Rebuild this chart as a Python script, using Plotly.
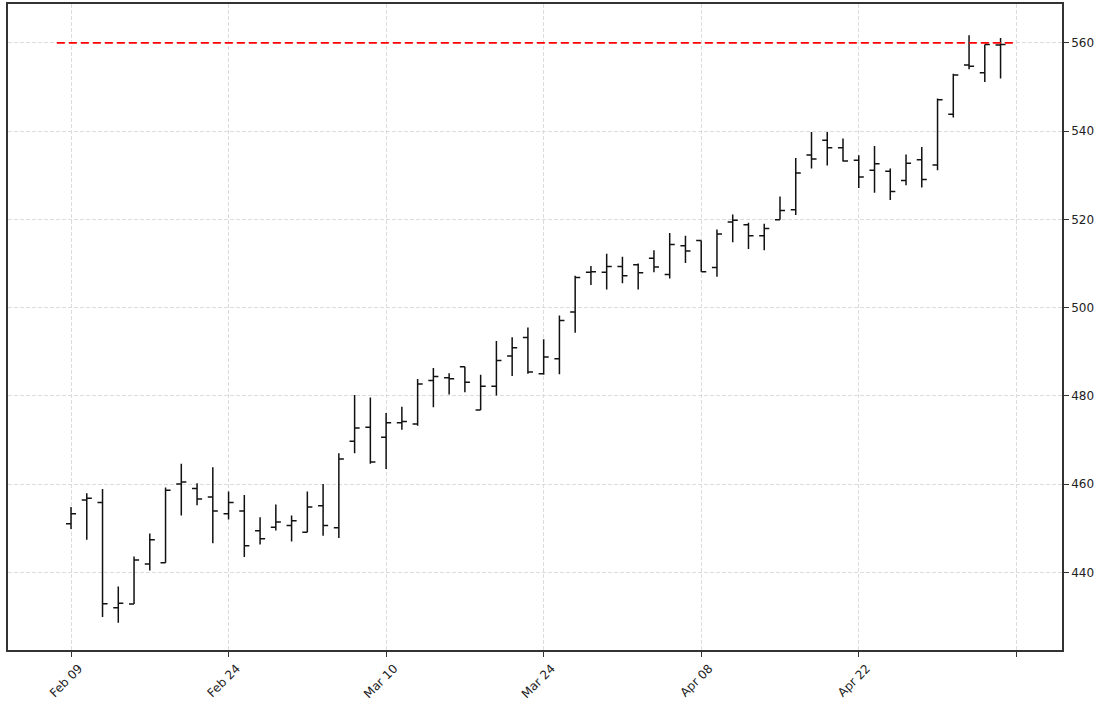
import plotly.graph_objects as go

opens = [451.0, 456.4, 455.8, 432.0, 432.8, 441.9, 442.2, 460.0, 459.0, 457.1,
         453.3, 453.9, 449.4, 450.2, 450.6, 449.1, 455.1, 450.1, 469.7, 472.9,
         470.6, 473.9, 473.6, 483.5, 484.1, 486.6, 476.8, 482.2, 489.0, 493.2,
         485.0, 488.4, 499.0, 508.0, 508.0, 509.3, 509.7, 511.2, 507.5, 514.0,
         515.2, 509.1, 519.4, 518.8, 516.3, 519.9, 522.2, 534.6, 537.9, 536.2,
         533.4, 531.1, 530.9, 528.8, 533.5, 532.3, 543.8, 555.0, 553.2, 559.5]
highs = [454.8, 457.9, 458.9, 436.8, 443.6, 448.8, 459.2, 464.6, 460.2, 463.8,
         458.3, 457.5, 452.5, 455.4, 452.9, 458.3, 460.0, 467.0, 480.2, 479.6,
         476.1, 477.5, 483.8, 486.3, 485.1, 486.6, 484.8, 492.4, 493.3, 495.5,
         492.8, 498.2, 507.2, 509.4, 512.2, 511.5, 510.0, 513.0, 516.9, 516.3,
         515.2, 517.7, 521.1, 519.2, 519.0, 525.2, 533.9, 539.8, 539.8, 538.3,
         534.5, 536.6, 531.5, 534.7, 536.4, 547.4, 553.0, 561.7, 559.6, 561.1]
lows = [449.8, 447.4, 429.9, 428.6, 432.8, 440.4, 442.2, 452.9, 455.2, 446.6,
        452.0, 443.5, 446.3, 449.5, 447.0, 449.1, 448.3, 447.8, 467.0, 464.6,
        463.4, 472.3, 473.2, 477.4, 480.3, 480.8, 476.8, 480.1, 484.5, 485.0,
        484.8, 484.9, 494.3, 505.1, 504.1, 505.5, 504.1, 508.0, 506.6, 510.1,
        508.1, 507.0, 514.8, 513.3, 513.0, 519.9, 521.0, 531.5, 532.2, 533.1,
        527.1, 526.0, 524.4, 527.7, 527.2, 531.1, 543.1, 554.0, 551.1, 551.9]
closes = [453.3, 456.8, 432.9, 433.0, 442.8, 447.4, 458.6, 460.5, 456.6, 453.9,
          455.8, 446.0, 447.6, 451.4, 451.7, 454.8, 450.6, 465.7, 472.7, 465.0,
          473.9, 474.2, 482.7, 484.4, 483.9, 483.1, 482.2, 488.0, 490.9, 485.4,
          488.8, 497.1, 506.8, 508.1, 509.3, 507.2, 507.9, 509.2, 514.3, 512.8,
          508.1, 516.7, 519.8, 516.3, 517.9, 522.0, 530.5, 533.7, 536.2, 533.2,
          529.6, 532.6, 526.3, 532.7, 529.0, 547.1, 552.7, 554.7, 559.6, 559.6]
bar_index = list(range(len(opens)))

tick_positions = [0, 10, 20, 30, 40, 50, 60]
tick_labels = ["Feb 09", "Feb 24", "Mar 10", "Mar 24", "Apr 08", "Apr 22", ""]
y_ticks = [440, 460, 480, 500, 520, 540, 560]
level = 560

fig = go.Figure()
fig.add_trace(go.Ohlc(
    x=bar_index, open=opens, high=highs, low=lows, close=closes,
    increasing=dict(line=dict(color="#111111", width=1.5)),
    decreasing=dict(line=dict(color="#111111", width=1.5)),
    tickwidth=0.32, showlegend=False, hoverinfo="skip",
))
fig.add_shape(type="line", x0=-0.9, x1=59.8, y0=level, y1=level,
              line=dict(color="red", width=1.6, dash="8px,4px"), layer="above")

grid_style = dict(showgrid=True, gridcolor="#dcdcdc", griddash="4px,2px", gridwidth=0.8)

fig.update_layout(
    width=1107, height=701,
    margin=dict(l=8, r=45, t=4, b=51, autoexpand=False),
    paper_bgcolor="white", plot_bgcolor="white",
    font=dict(family="DejaVu Sans", size=12, color="#222222"),
    xaxis=dict(
        range=[-4, 62.9], rangeslider=dict(visible=False), automargin=False,
        tickmode="array", tickvals=tick_positions, ticktext=tick_labels,
        tickangle=-45, ticks="outside", ticklen=5, tickcolor="#333333",
        ticklabelshift=8,
        showline=True, linecolor="#333333", linewidth=1.5, mirror=True,
        zeroline=False, tickfont=dict(size=12), **grid_style,
    ),
    yaxis=dict(
        range=[422.4, 568.8], side="right", automargin=False,
        tickmode="array", tickvals=y_ticks,
        ticks="outside", ticklen=5, tickcolor="#333333",
        showline=True, linecolor="#333333", linewidth=1.5, mirror=True,
        zeroline=False, tickfont=dict(size=12), **grid_style,
    ),
)

fig.write_html("out.html", config={"displayModeBar": False},
               post_script="document.body.style.margin='0';")
